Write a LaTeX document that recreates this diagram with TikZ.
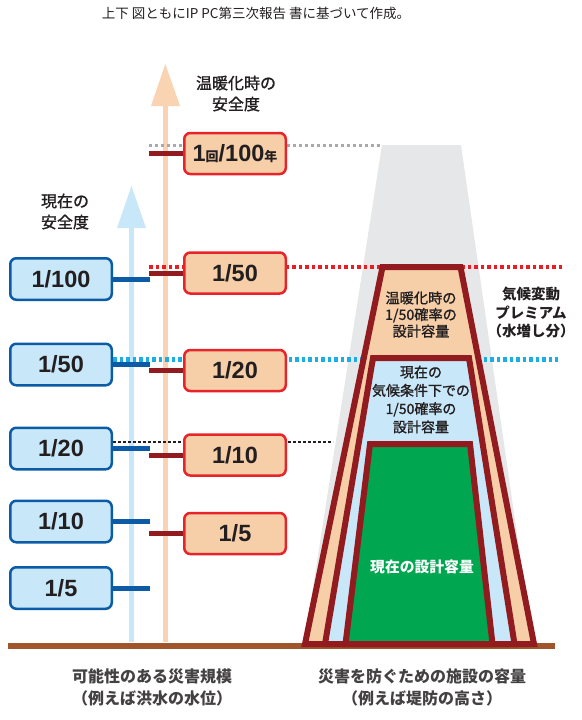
\documentclass[tikz,border=0pt]{standalone}
\usepackage{fontspec}
\setmainfont{Liberation Sans}
\newfontfamily\jp{Noto Sans CJK JP}
\newfontfamily\jpm[FakeBold=1.2]{Noto Sans CJK JP}
\definecolor{peach}{HTML}{F6CFA9}
\definecolor{peacharrow}{HTML}{F9D3B2}
\definecolor{lblue}{HTML}{C8E8F9}
\definecolor{cblue}{HTML}{0B5BA7}
\definecolor{cred}{HTML}{E8232A}
\definecolor{dkred}{HTML}{921B1F}
\definecolor{cgreen}{HTML}{00A650}
\definecolor{lgray}{HTML}{E6E7E8}
\definecolor{dgray}{HTML}{A7A9AC}
\definecolor{brown}{HTML}{A0552B}
\definecolor{cyan}{HTML}{1AAEE5}
\definecolor{dotred}{HTML}{ED1C24}
\definecolor{tdark}{HTML}{231F20}
\begin{document}
\begin{tikzpicture}[x=1pt,y=-1pt,
  numfont/.style={font=\bfseries\fontsize{23.5}{24}\selectfont, text=tdark},
  bbox/.style={numfont, draw=cblue, fill=lblue, line width=2.5pt, rounded corners=6pt, minimum width=101.5pt, minimum height=41.5pt, inner sep=0pt},
  rbox/.style={numfont, draw=cred, fill=peach, line width=2.5pt, rounded corners=6pt, minimum width=101.5pt, minimum height=41pt, inner sep=0pt},
  bconn/.style={draw=cblue, line width=5pt},
  rconn/.style={draw=dkred, line width=5pt},
  trap/.style={draw=dkred, line width=6pt, line join=miter},
  jplabel/.style={font=\jpm\fontsize{16}{21}\selectfont, text=tdark, align=center, inner sep=0pt},
  bottomlabel/.style={font=\jp\bfseries\fontsize{16}{22}\selectfont, text=tdark!85!white, align=center, inner sep=0pt},
  traptext/.style={font=\jpm\fontsize{14.2}{16.6}\selectfont, text=tdark, align=center, inner sep=0pt}
]
\useasboundingbox (0,0) rectangle (581,720);

% title
\node[font=\jp\fontsize{13.5}{15}\selectfont, text=tdark, inner sep=0pt] (title) at (256,13) {上下 図ともにIP PC第三次報告 書に基づいて作成。};

% gray premium trapezoid
\fill[lgray] (382,145) -- (461,145) -- (533,645) -- (304,645) -- cycle;

% arrows
\fill[lblue] (129,642) rectangle (134,227);
\fill[lblue] (117,228) -- (131.5,186) -- (146,228) -- cycle;
\fill[peacharrow] (162.5,642) rectangle (168,105);
\fill[peacharrow] (151,106) -- (165.3,64) -- (180,106) -- cycle;

% reference coordinates for connector ends
\coordinate (bend) at (150,0);
\coordinate (rend) at (149,0);
\coordinate (grayend) at (380,145);
\coordinate (redend) at (563,267);
\coordinate (cyanend) at (558,359);
\coordinate (blackend) at (333,442);

% boxes (blue, present)
\node[bbox] (b100) at (61,279) {1/100};
\node[bbox] (b50) at (61,364.5) {1/50};
\node[bbox] (b20) at (61,448.5) {1/20};
\node[bbox] (b10) at (61,521.5) {1/10};
\node[bbox] (b5) at (61,588) {1/5};

% dotted level lines
\draw[dgray, line width=3pt, dash pattern=on 3pt off 3pt] (rend |- grayend) -- (grayend);
\draw[dotred, line width=4.5pt, dash pattern=on 3.5pt off 3pt] (rend |- redend) -- (redend);
\draw[cyan, line width=5pt, dash pattern=on 3.5pt off 3pt] (b50.east |- cyanend) -- (cyanend);
\draw[tdark, line width=2.5pt, dash pattern=on 2.5pt off 2.5pt] (b20.east |- blackend) -- (blackend);

% red boxes (warming)
\node[rbox] (r100) at (235,153.5) {1{\jp\fontsize{13}{13}\selectfont 回}/100{\jp\fontsize{13}{13}\selectfont 年}};
\node[rbox] (r50) at (235,273) {1/50};
\node[rbox] (r20) at (235,370.5) {1/20};
\node[rbox] (r10) at (235,455) {1/10};
\node[rbox] (r5) at (235,533.5) {1/5};

% connectors
\foreach \n in {b100,b50,b20,b10,b5} {
  \draw[bconn] (\n.east) -- (\n.east -| bend);
}
\foreach \n in {r100,r50,r20,r10,r5} {
  \draw[rconn] (\n.west) -- (\n.west -| rend);
}

% ground line
\draw[brown, line width=6pt] (8,646) -- (555,646);

% capacity trapezoids
\filldraw[trap, fill=peach] (305,644) -- (382.5,267) -- (460.5,267) -- (534,644) -- cycle;
\filldraw[trap, fill=lblue] (325,644) -- (373,358) -- (469,358) -- (514.5,644) -- cycle;
\filldraw[trap, fill=cgreen] (345.5,644) -- (370,444) -- (470,444) -- (492.5,644) -- cycle;

% texts
\node[jplabel] (lwarm) at (236,93.5) {温暖化時の\\安全度};
\node[jplabel] (lnow) at (65,211.5) {現在の\\安全度};
\node[traptext] (twarm) at (421,314.5) {温暖化時の\\1/50確率の\\設計容量};
\node[traptext, font=\jpm\fontsize{14}{18.3}\selectfont] (tnow) at (421,399.5) {現在の\\気候条件下での\\1/50確率の\\設計容量};
\node[traptext, font=\jp\bfseries\fontsize{14.5}{18.5}\selectfont] (tprem) at (531,312.5) {気候変動\\プレミアム\\（水増し分）};
\node[font=\jp\bfseries\fontsize{14.8}{16}\selectfont, text=white, inner sep=0pt] (tgreen) at (422,567) {現在の設計容量};
\node[bottomlabel] (bl) at (152,687) {可能性のある災害規模\\（例えば洪水の水位）};
\node[bottomlabel] (br) at (422,687) {災害を防ぐための施設の容量\\（例えば堤防の高さ）};
\end{tikzpicture}
\end{document}
